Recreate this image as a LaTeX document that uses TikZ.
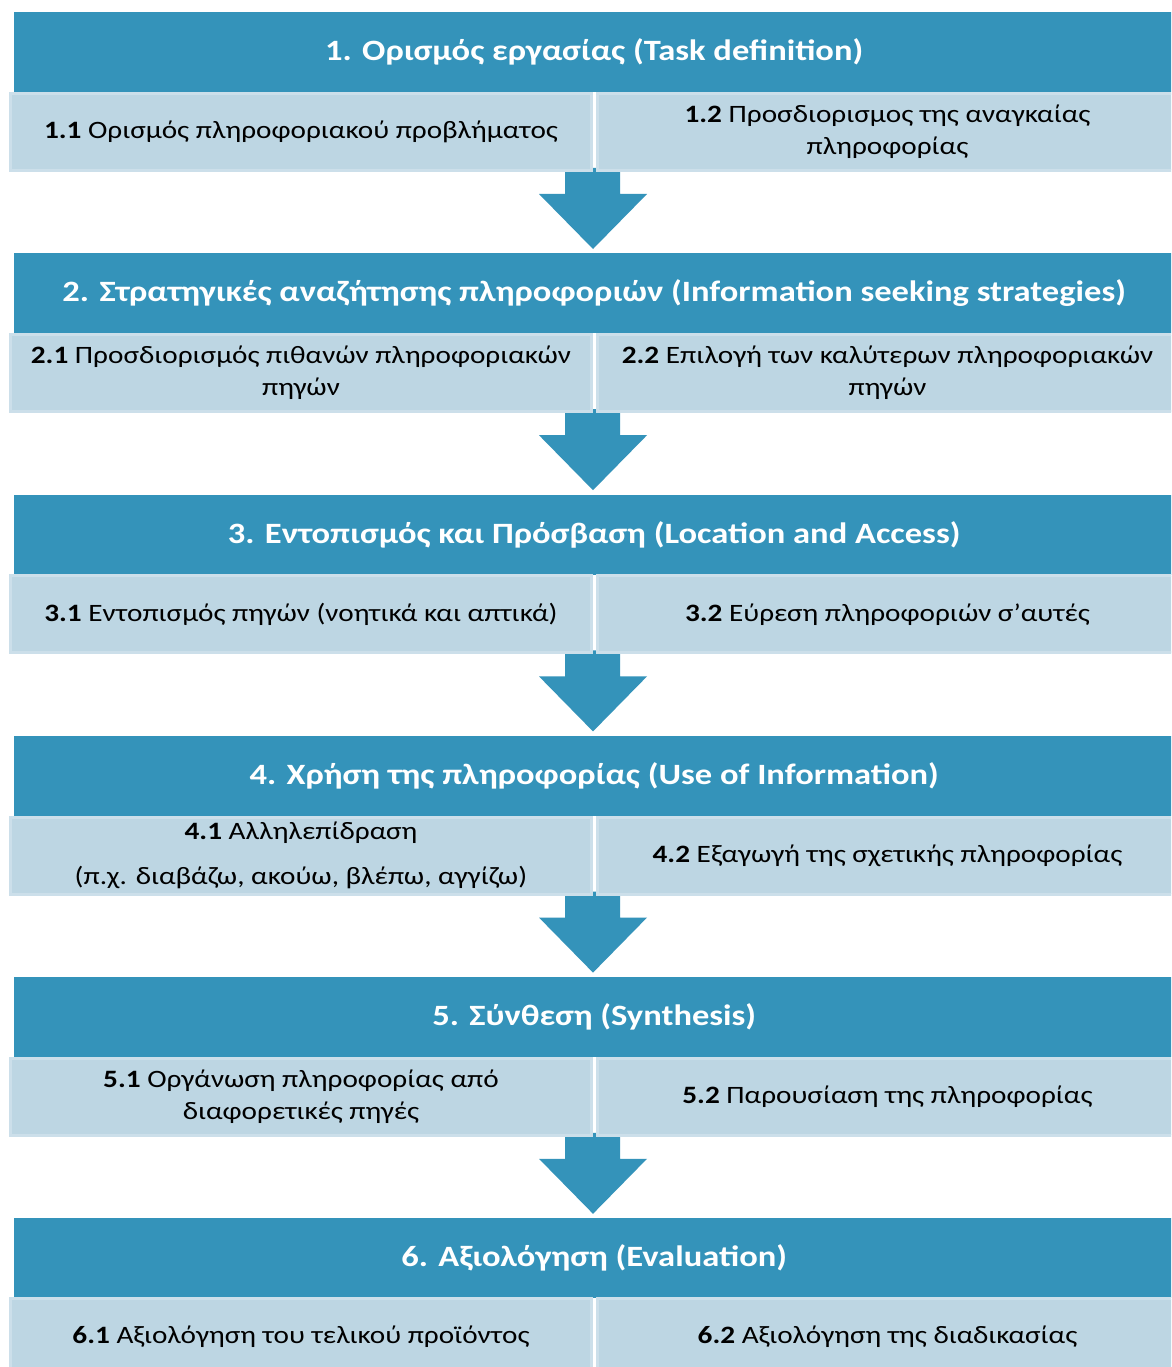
\documentclass[tikz,border=0pt]{standalone}
\usepackage{fontspec}
\setmainfont{Carlito}[FakeStretch=1.17]
\definecolor{hdrblue}{HTML}{3493BA}
\definecolor{subfill}{HTML}{BDD6E3}
\definecolor{subedge}{HTML}{CCDFEA}
\begin{document}
\begin{tikzpicture}[x=1pt,y=-1pt,
  hdr/.style={fill=hdrblue, text=white, anchor=north west, inner sep=0pt,
    minimum width=1160pt, minimum height=80pt,
    font=\fontsize{29.5}{35}\selectfont\bfseries},
  subbox/.style={fill=subfill, draw=subedge, line width=3pt, anchor=north west,
    inner sep=0pt, minimum height=77pt, align=center,
    font=\fontsize{25}{32}\selectfont},
  leftbox/.style={subbox, minimum width=581pt},
  rightbox/.style={subbox, minimum width=580pt},
  blockarrow/.style={fill=hdrblue}
]
\useasboundingbox (0,0) rectangle (1171,1367);
\clip (0,0) rectangle (1171,1367);
\fill[white] (0,0) rectangle (1171,1367);

% block arrows between the stages
\foreach \t in {12,253.2,494.4,735.6,976.8}{
  \fill[blockarrow] (565,\t+156) -- (620,\t+156) -- (620,\t+182) -- (647,\t+182)
    -- (593,\t+237) -- (539,\t+182) -- (565,\t+182) -- cycle;
}

% stage 1
\node[hdr] (h1) at (14,12) {1. Ορισμός εργασίας (Task definition)};
\node[leftbox] (s11) at (9,92) {\textbf{1.1} Ορισμός πληροφοριακού προβλήματος};
\node[rightbox] (s12) at (596,92) {\textbf{1.2} Προσδιορισμος της αναγκαίας\\πληροφορίας};

% stage 2
\node[hdr] (h2) at (14,253.2) {2. Στρατηγικές αναζήτησης πληροφοριών (Information seeking strategies)};
\node[leftbox] (s21) at (9,333.2) {\textbf{2.1} Προσδιορισμός πιθανών πληροφοριακών\\πηγών};
\node[rightbox] (s22) at (596,333.2) {\textbf{2.2} Επιλογή των καλύτερων πληροφοριακών\\πηγών};

% stage 3
\node[hdr] (h3) at (14,494.4) {3. Εντοπισμός και Πρόσβαση (Location and Access)};
\node[leftbox] (s31) at (9,574.4) {\textbf{3.1} Εντοπισμός πηγών (νοητικά και απτικά)};
\node[rightbox] (s32) at (596,574.4) {\textbf{3.2} Εύρεση πληροφοριών σ’αυτές};

% stage 4
\node[hdr] (h4) at (14,735.6) {4. Χρήση της πληροφορίας (Use of Information)};
\node[leftbox] (s41) at (9,815.6) {\textbf{4.1} Αλληλεπίδραση\\[13pt](π.χ. διαβάζω, ακούω, βλέπω, αγγίζω)};
\node[rightbox] (s42) at (596,815.6) {\textbf{4.2} Εξαγωγή της σχετικής πληροφορίας};

% stage 5
\node[hdr] (h5) at (14,976.8) {5. Σύνθεση (Synthesis)};
\node[leftbox] (s51) at (9,1056.8) {\textbf{5.1} Οργάνωση πληροφορίας από\\διαφορετικές πηγές};
\node[rightbox] (s52) at (596,1056.8) {\textbf{5.2} Παρουσίαση της πληροφορίας};

% stage 6
\node[hdr] (h6) at (14,1218) {6. Αξιολόγηση (Evaluation)};
\node[leftbox] (s61) at (9,1297) {\textbf{6.1} Αξιολόγηση του τελικού προϊόντος};
\node[rightbox] (s62) at (596,1297) {\textbf{6.2} Αξιολόγηση της διαδικασίας};
\end{tikzpicture}
\end{document}
